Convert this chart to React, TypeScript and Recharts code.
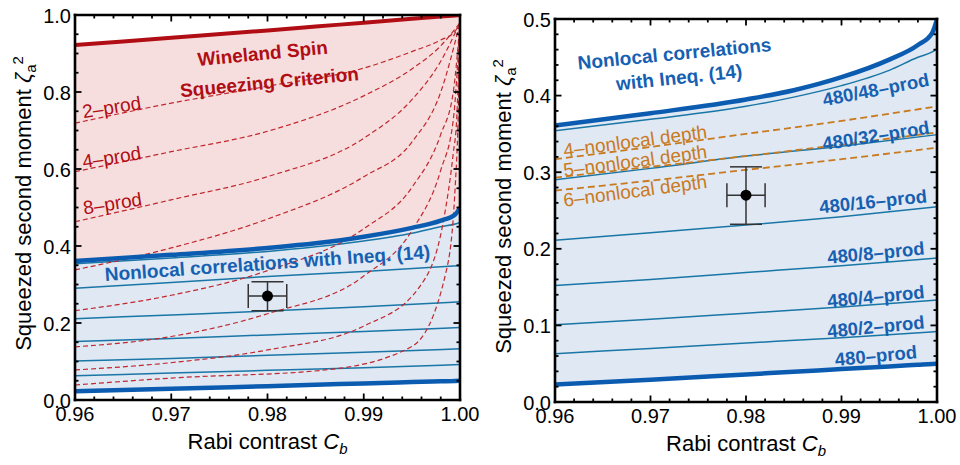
import React from "react";
import {
  ComposedChart,
  XAxis,
  YAxis,
  Line,
  Area,
  Scatter,
  ErrorBar,
  ReferenceDot,
  Label,
} from "recharts";

// ---- values ----
const cBand = [0.96, 0.97, 0.98, 0.985, 0.99, 0.995, 0.998, 0.9995, 1.0];
const wineland = [0.922, 0.941, 0.96, 0.97, 0.98, 0.99, 0.996, 0.999, 1.0];
const nonlocal = [0.361, 0.377, 0.395, 0.407, 0.424, 0.447, 0.466, 0.482, 0.5];
const prod480_48 = [0.354, 0.369, 0.386, 0.398, 0.413, 0.433, 0.45, 0.457, 0.461];
const prod480 = [0.023, 0.029, 0.036, 0.0395, 0.043, 0.0465, 0.0485, 0.0495, 0.05];

const cLine = [0.96, 0.97, 0.98, 0.99, 1.0];
const prod480_32 = [0.29, 0.305, 0.321, 0.334, 0.349];
const prod480_16 = [0.211, 0.221, 0.231, 0.242, 0.255];
const prod480_8 = [0.152, 0.16, 0.169, 0.178, 0.188];
const prod480_4 = [0.101, 0.108, 0.116, 0.124, 0.133];
const prod480_2 = [0.063, 0.07, 0.077, 0.084, 0.092];

const depth4 = [0.317, 0.333, 0.35, 0.367, 0.386];
const depth5 = [0.293, 0.307, 0.321, 0.336, 0.352];
const depth6 = [0.276, 0.289, 0.303, 0.317, 0.332];

// k-producible bounds of the Wineland criterion (left panel, dashed)
const kProd2 = [[0.96, 0.719], [0.97, 0.771], [0.98, 0.815], [0.99, 0.862], [0.995, 0.905], [0.998, 0.935], [0.9995, 0.958], [1.0, 0.98]];
const kProd4 = [[0.96, 0.593], [0.97, 0.645], [0.98, 0.698], [0.99, 0.79], [0.995, 0.86], [0.998, 0.92], [1.0, 0.98]];
const kProd8 = [[0.96, 0.463], [0.97, 0.52], [0.98, 0.58], [0.99, 0.68], [0.995, 0.78], [0.998, 0.88], [1.0, 0.98]];
const kProd16 = [[0.96, 0.338], [0.97, 0.395], [0.98, 0.47], [0.99, 0.58], [0.995, 0.67], [0.998, 0.8], [1.0, 0.98]];
const kProd32 = [[0.96, 0.232], [0.97, 0.272], [0.98, 0.336], [0.99, 0.445], [0.995, 0.552], [0.998, 0.69], [0.9993, 0.8], [1.0, 0.98]];
const kProd64 = [[0.96, 0.138], [0.97, 0.165], [0.98, 0.224], [0.99, 0.322], [0.995, 0.44], [0.998, 0.597], [0.9993, 0.727], [1.0, 0.98]];
const kProd128 = [[0.96, 0.078], [0.97, 0.097], [0.98, 0.13], [0.99, 0.192], [0.9958, 0.294], [0.9983, 0.468], [0.9993, 0.641], [0.99965, 0.727], [1.0, 0.98]];
const kProd256 = [[0.96, 0.039], [0.97, 0.057], [0.986, 0.078], [0.995, 0.139], [0.9986, 0.338], [0.9995, 0.554], [0.9998, 0.727], [1.0, 0.98]];

// measured point
const pointC = [0.98];
const pointV = [0.27];
const pointErrC = [0.002];
const pointErrV = [[0.038, 0.037]];

// ticks
const xTicks = [0.96, 0.962, 0.964, 0.966, 0.968, 0.97, 0.972, 0.974, 0.976, 0.978, 0.98, 0.982, 0.984, 0.986, 0.988, 0.99, 0.992, 0.994, 0.996, 0.998, 1.0];
const xMajor = [0.96, 0.97, 0.98, 0.99, 1.0];
const yTicksL = [0, 0.05, 0.1, 0.15, 0.2, 0.25, 0.3, 0.35, 0.4, 0.45, 0.5, 0.55, 0.6, 0.65, 0.7, 0.75, 0.8, 0.85, 0.9, 0.95, 1.0];
const yMajorL = [0, 0.2, 0.4, 0.6, 0.8, 1.0];
const yTicksR = [0, 0.02, 0.04, 0.06, 0.08, 0.1, 0.12, 0.14, 0.16, 0.18, 0.2, 0.22, 0.24, 0.26, 0.28, 0.3, 0.32, 0.34, 0.36, 0.38, 0.4, 0.42, 0.44, 0.46, 0.48, 0.5];
const yMajorR = [0, 0.1, 0.2, 0.3, 0.4, 0.5];

// colours
const RED = "#b00d14";
const RED_DASH = "#c0282e";
const BLUE = "#0b5cb0";
const BLUE_TXT = "#1660b2";
const TEAL = "#1a76a6";
const ORANGE = "#c97a1f";
const PINK = "#f6dede";
const PALE_BLUE = "#dfe8f3";
const FONT = '"Liberation Sans", Arial, Helvetica, sans-serif';

const rows = (cs: number[], vs: number[]) => cs.map((c, i) => ({ c, v: vs[i] }));
const pairs = (ps: number[][]) => ps.map(([c, v]) => ({ c, v }));
const bandRows = cBand.map((c, i) => ({ c, low: prod480[i], mid: nonlocal[i], high: wineland[i] }));
const pointRows = pointC.map((c, i) => ({ c, v: pointV[i], ex: pointErrC[i], ey: pointErrV[i] }));

const leftNotes = [
  { text: "Wineland Spin", c: 0.9795, v: 0.901, angle: -5.5, color: RED, size: 19, bold: true },
  { text: "Squeezing Criterion", c: 0.9802, v: 0.826, angle: -5.5, color: RED, size: 19, bold: true },
  { text: "2\u2013prod", c: 0.9638, v: 0.761, angle: -9, color: RED, size: 19, bold: false },
  { text: "4\u2013prod", c: 0.9638, v: 0.631, angle: -9, color: RED, size: 19, bold: false },
  { text: "8\u2013prod", c: 0.9639, v: 0.511, angle: -9, color: RED, size: 19, bold: false },
  { text: "Nonlocal correlations with Ineq. (14)", c: 0.98, v: 0.356, angle: -4, color: BLUE_TXT, size: 19, bold: true },
];

const rightNotes = [
  { text: "Nonlocal correlations", c: 0.9725, v: 0.455, angle: -5.5, color: BLUE_TXT, size: 19, bold: true },
  { text: "with Ineq. (14)", c: 0.973, v: 0.424, angle: -6, color: BLUE_TXT, size: 19, bold: true },
  { text: "480/48\u2013prod", c: 0.9936, v: 0.408, angle: -11, color: BLUE_TXT, size: 18.5, bold: true },
  { text: "480/32\u2013prod", c: 0.9936, v: 0.348, angle: -9, color: BLUE_TXT, size: 18.5, bold: true },
  { text: "480/16\u2013prod", c: 0.9933, v: 0.262, angle: -6, color: BLUE_TXT, size: 18.5, bold: true },
  { text: "480/8\u2013prod", c: 0.9936, v: 0.195, angle: -5.5, color: BLUE_TXT, size: 18.5, bold: true },
  { text: "480/4\u2013prod", c: 0.9936, v: 0.138, angle: -5.5, color: BLUE_TXT, size: 18.5, bold: true },
  { text: "480/2\u2013prod", c: 0.9936, v: 0.0986, angle: -5.5, color: BLUE_TXT, size: 18.5, bold: true },
  { text: "480\u2013prod", c: 0.9936, v: 0.0607, angle: -5.5, color: BLUE_TXT, size: 18.5, bold: true },
  { text: "4\u2013nonlocal depth", c: 0.9684, v: 0.341, angle: -7.5, color: ORANGE, size: 19, bold: false },
  { text: "5\u2013nonlocal depth", c: 0.9684, v: 0.315, angle: -7.5, color: ORANGE, size: 19, bold: false },
  { text: "6\u2013nonlocal depth", c: 0.9684, v: 0.276, angle: -7.5, color: ORANGE, size: 19, bold: false },
];

const makeTick = (side: string, majors: number[], digits: number) => (props: any) => {
  const { x, y, payload } = props;
  const val = Number(payload.value);
  const major = majors.some((m) => Math.abs(m - val) < 1e-7);
  const len = major ? 6.5 : 3.5;
  let x2 = x;
  let y2 = y;
  if (side === "bottom") y2 = y - len;
  if (side === "top") y2 = y + len;
  if (side === "left") x2 = x + len;
  if (side === "right") x2 = x - len;
  return (
    <g>
      <line x1={x} y1={y} x2={x2} y2={y2} stroke="#000" strokeWidth={1.8} />
      {major && side === "bottom" && (
        <text x={x} y={y + 21} textAnchor="middle" fontSize={20} fill="#000">
          {val.toFixed(digits)}
        </text>
      )}
      {major && side === "left" && (
        <text x={x - 4} y={y + 7.5} textAnchor="end" fontSize={20} fill="#000">
          {val.toFixed(digits)}
        </text>
      )}
    </g>
  );
};

const XTitle = (props: any) => {
  const vb = props.viewBox;
  const cx = vb.x + vb.width / 2;
  return (
    <text x={cx} y={vb.y + 49} textAnchor="middle" fontSize={22} fill="#000">
      Rabi contrast <tspan fontStyle="italic">C</tspan>
      <tspan fontStyle="italic" fontSize={15} dy={5}>b</tspan>
    </text>
  );
};

const YTitle = (props: any) => {
  const vb = props.viewBox;
  const cx = vb.x + vb.width - 44;
  const cy = vb.y + vb.height / 2 - 4;
  return (
    <text x={cx} y={cy} transform={`rotate(-90, ${cx}, ${cy})`} textAnchor="middle" fontSize={22} fill="#000">
      Squeezed second moment <tspan fontStyle="italic">{"\u03B6"}</tspan>
      <tspan fontSize={15} dy={5}>a</tspan>
      <tspan fontSize={15} dy={-13}>2</tspan>
    </text>
  );
};

const frameLine = { stroke: "#000", strokeWidth: 2.6, strokeLinecap: "square" as const };

// axes are 1px thick (0 is not drawn); the margins below allow for that
function frame(yMax: number, yTicks: number[], yMajor: number[]) {
  return [
    <XAxis key="xb" xAxisId="b" dataKey="c" type="number" domain={[0.96, 1]} allowDataOverflow ticks={xTicks} interval={0} height={1} tickSize={0} tickMargin={0} tickLine={false} axisLine={frameLine} tick={makeTick("bottom", xMajor, 2)}>
      <Label content={XTitle} />
    </XAxis>,
    <XAxis key="xt" xAxisId="t" orientation="top" dataKey="c" type="number" domain={[0.96, 1]} allowDataOverflow ticks={xTicks} interval={0} height={1} tickSize={0} tickMargin={0} tickLine={false} axisLine={frameLine} tick={makeTick("top", xMajor, 2)} />,
    <YAxis key="yl" yAxisId="l" type="number" domain={[0, yMax]} allowDataOverflow ticks={yTicks} interval={0} width={1} tickSize={0} tickMargin={0} tickLine={false} axisLine={frameLine} tick={makeTick("left", yMajor, 1)}>
      <Label content={YTitle} />
    </YAxis>,
    <YAxis key="yr" yAxisId="r" orientation="right" type="number" domain={[0, yMax]} allowDataOverflow ticks={yTicks} interval={0} width={1} tickSize={0} tickMargin={0} tickLine={false} axisLine={frameLine} tick={makeTick("right", yMajor, 1)} />,
  ];
}

const ax = { xAxisId: "b", yAxisId: "l" };

function curve(key: string, data: any[], color: string, width: number, dash?: string) {
  return (
    <Line
      key={key}
      {...ax}
      data={data}
      dataKey="v"
      type="monotone"
      stroke={color}
      strokeWidth={width}
      strokeDasharray={dash}
      dot={false}
      activeDot={false}
      isAnimationActive={false}
    />
  );
}

function notes(list: typeof leftNotes) {
  return list.map((n) => (
    <ReferenceDot
      key={n.text}
      {...ax}
      x={n.c}
      y={n.v}
      r={0}
      fill="none"
      stroke="none"
      ifOverflow="visible"
      label={{
        value: n.text,
        position: "center",
        angle: n.angle,
        fill: n.color,
        fontSize: n.size,
        fontWeight: n.bold ? 700 : 400,
      }}
    />
  ));
}

function point() {
  return (
    <Scatter
      {...ax}
      data={pointRows}
      dataKey="v"
      isAnimationActive={false}
      shape={(p: any) => <circle cx={p.cx} cy={p.cy} r={5.5} fill="#000" />}
    >
      <ErrorBar dataKey="ey" direction="y" width={16} stroke="#333" strokeWidth={1.5} />
      <ErrorBar dataKey="ex" direction="x" width={12} stroke="#333" strokeWidth={1.5} />
    </Scatter>
  );
}

const thinLines = [
  ["p48", rows(cBand, prod480_48)],
  ["p32", rows(cLine, prod480_32)],
  ["p16", rows(cLine, prod480_16)],
  ["p8", rows(cLine, prod480_8)],
  ["p4", rows(cLine, prod480_4)],
  ["p2", rows(cLine, prod480_2)],
] as const;

const kCurves = [kProd2, kProd4, kProd8, kProd16, kProd32, kProd64, kProd128, kProd256];

function LeftPanel() {
  return (
    <ComposedChart width={480} height={465} margin={{ top: 14, right: 19, bottom: 64, left: 74 }}>
      {frame(1, yTicksL, yMajorL)}
      <Area {...ax} data={bandRows} dataKey={(d: any) => [d.mid, d.high]} type="monotone" stroke="none" fill={PINK} fillOpacity={1} dot={false} activeDot={false} isAnimationActive={false} />
      <Area {...ax} data={bandRows} dataKey={(d: any) => [d.low, d.mid]} type="monotone" stroke="none" fill={PALE_BLUE} fillOpacity={1} dot={false} activeDot={false} isAnimationActive={false} />
      {thinLines.map(([k, d]) => curve(k, d as any, TEAL, 1.5))}
      {kCurves.map((k, i) => curve("k" + i, pairs(k), RED_DASH, 1.2, "5 3"))}
      {curve("nl", rows(cBand, nonlocal), BLUE, 4.5)}
      {curve("p480", rows(cBand, prod480), BLUE, 4.5)}
      {curve("wl", rows(cBand, wineland), RED, 4)}
      {notes(leftNotes)}
      {point()}
    </ComposedChart>
  );
}

function RightPanel() {
  return (
    <ComposedChart width={480} height={465} margin={{ top: 18, right: 22, bottom: 62, left: 74 }}>
      {frame(0.5, yTicksR, yMajorR)}
      <Area {...ax} data={bandRows} dataKey={(d: any) => [d.low, d.mid]} type="monotone" stroke="none" fill={PALE_BLUE} fillOpacity={1} dot={false} activeDot={false} isAnimationActive={false} />
      {thinLines.map(([k, d]) => curve(k, d as any, TEAL, 1.5))}
      {curve("d4", rows(cLine, depth4), ORANGE, 1.8, "7 4")}
      {curve("d5", rows(cLine, depth5), ORANGE, 1.8, "7 4")}
      {curve("d6", rows(cLine, depth6), ORANGE, 1.8, "7 4")}
      {curve("nl", rows(cBand, nonlocal), BLUE, 4.5)}
      {curve("p480", rows(cBand, prod480), BLUE, 4.5)}
      {notes(rightNotes)}
      {point()}
    </ComposedChart>
  );
}

export default function App() {
  return (
    <div
      style={{
        position: "fixed",
        left: 0,
        top: 0,
        width: 960,
        height: 465,
        background: "#fff",
        fontFamily: FONT,
        display: "flex",
      }}
    >
      <LeftPanel />
      <RightPanel />
    </div>
  );
}
